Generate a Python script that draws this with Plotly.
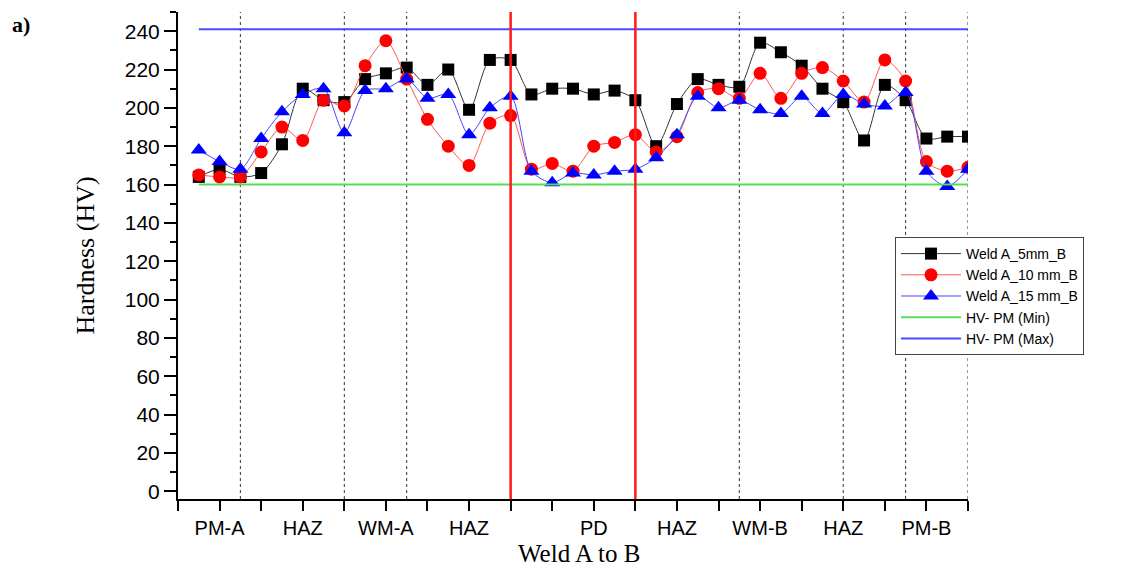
import plotly.graph_objects as go

# ---- data ----
positions = list(range(1, 39))
weld_5mm = [164, 168, 164, 166, 181, 210, 204, 203, 215, 218, 221, 212, 220, 199, 225, 225,
            207, 210, 210, 207, 209, 204, 180, 202, 215, 212, 211, 234, 229, 222, 210, 203,
            183, 212, 204, 184, 185, 185]
weld_10mm = [165, 164, 164, 177, 190, 183, 204, 201, 222, 235, 215, 194, 180, 170, 192, 196,
             168, 171, 167, 180, 182, 186, 177, 185, 208, 210, 205, 218, 205, 218, 221, 214,
             203, 225, 214, 172, 167, 169]
weld_15mm = [178, 172, 168, 184, 198, 207, 210, 187, 209, 210, 215, 205, 207, 186, 200, 206,
             167, 161, 166, 165, 167, 168, 174, 186, 206, 200, 204, 199, 197, 206, 197, 207,
             202, 201, 208, 167, 159, 168]
hv_pm_min = 160
hv_pm_max = 241

region_labels = ["PM-A", "HAZ", "WM-A", "HAZ", "PD", "HAZ", "WM-B", "HAZ", "PM-B"]
region_label_pos = [2, 6, 10, 14, 20, 24, 28, 32, 36]
zone_boundaries = [3, 8, 11, 27, 32, 35, 38]
pd_boundaries = [16, 22]
x_major_ticks = list(range(0, 39, 2))

fig = go.Figure()

fig.add_trace(go.Scatter(
    x=positions, y=weld_5mm, name="Weld A_5mm_B", mode="lines+markers",
    line=dict(color="#333333", width=1, shape="spline", smoothing=0.8),
    marker=dict(symbol="square", size=12, color="black")))
fig.add_trace(go.Scatter(
    x=positions, y=weld_10mm, name="Weld A_10 mm_B", mode="lines+markers",
    line=dict(color="#ff5555", width=1, shape="spline", smoothing=0.8),
    marker=dict(symbol="circle", size=13, color="#ff0000")))
fig.add_trace(go.Scatter(
    x=positions, y=weld_15mm, name="Weld A_15 mm_B", mode="lines+markers",
    line=dict(color="#4444ff", width=1, shape="spline", smoothing=0.8),
    marker=dict(symbol="triangle-up", size=14, color="#0000ff")))
fig.add_trace(go.Scatter(
    x=[positions[0], positions[-1]], y=[hv_pm_min, hv_pm_min], name="HV- PM (Min)",
    mode="lines", line=dict(color="#55dd55", width=2)))
fig.add_trace(go.Scatter(
    x=[positions[0], positions[-1]], y=[hv_pm_max, hv_pm_max], name="HV- PM (Max)",
    mode="lines", line=dict(color="#4a4aff", width=2)))

shapes = []
for b in zone_boundaries:
    shapes.append(dict(type="line", xref="x", yref="paper", x0=b, x1=b, y0=0, y1=1,
                       line=dict(color="#333333", width=1, dash="dot"), layer="below"))
for b in pd_boundaries:
    shapes.append(dict(type="line", xref="x", yref="paper", x0=b, x1=b, y0=0, y1=1,
                       line=dict(color="#ff1a1a", width=2.5), layer="above"))

ticktext = []
for v in x_major_ticks:
    ticktext.append(region_labels[region_label_pos.index(v)] if v in region_label_pos else "")

fig.update_layout(
    width=1120, height=561,
    margin=dict(l=170, r=160, t=4, b=70),
    plot_bgcolor="white", paper_bgcolor="white",
    shapes=shapes,
    showlegend=True,
    legend=dict(x=0.9076, y=0.538, xanchor="left", yanchor="top",
                bgcolor="white", bordercolor="#444444", borderwidth=1,
                font=dict(family="Liberation Sans, Arial", size=14, color="black"),
                itemwidth=60, tracegroupgap=0),
    xaxis=dict(range=[0, 38], tickmode="array", tickvals=x_major_ticks, ticktext=ticktext,
               showline=True, linecolor="black", linewidth=2, ticks="outside",
               ticklen=10, tickwidth=2, tickcolor="black", showgrid=False, zeroline=False,
               tickfont=dict(family="Liberation Sans, Arial", size=20, color="black")),
    yaxis=dict(range=[-4, 250], tick0=0, dtick=20,
               showline=True, linecolor="black", linewidth=2, ticks="outside",
               ticklen=12, tickwidth=2, tickcolor="black", showgrid=False, zeroline=False,
               minor=dict(dtick=10, ticks="outside", ticklen=6, tickwidth=1.5, tickcolor="black"),
               tickfont=dict(family="Liberation Sans, Arial", size=21, color="black")),
    annotations=[
        dict(text="<b>a)</b>", xref="paper", yref="paper", x=-0.2127, y=1.004,
             xanchor="left", yanchor="top", showarrow=False,
             font=dict(family="Liberation Serif, Times New Roman", size=22, color="black")),
        dict(text="Hardness (HV)", xref="paper", yref="paper", x=-0.1177, y=0.5,
             xanchor="center", yanchor="middle", textangle=-90, showarrow=False,
             font=dict(family="Liberation Serif, Times New Roman", size=26, color="black")),
        dict(text="Weld A to B", xref="paper", yref="paper", x=0.5076, y=-0.111,
             xanchor="center", yanchor="middle", showarrow=False,
             font=dict(family="Liberation Serif, Times New Roman", size=25, color="black")),
    ],
)

fig.write_html("out.html")
